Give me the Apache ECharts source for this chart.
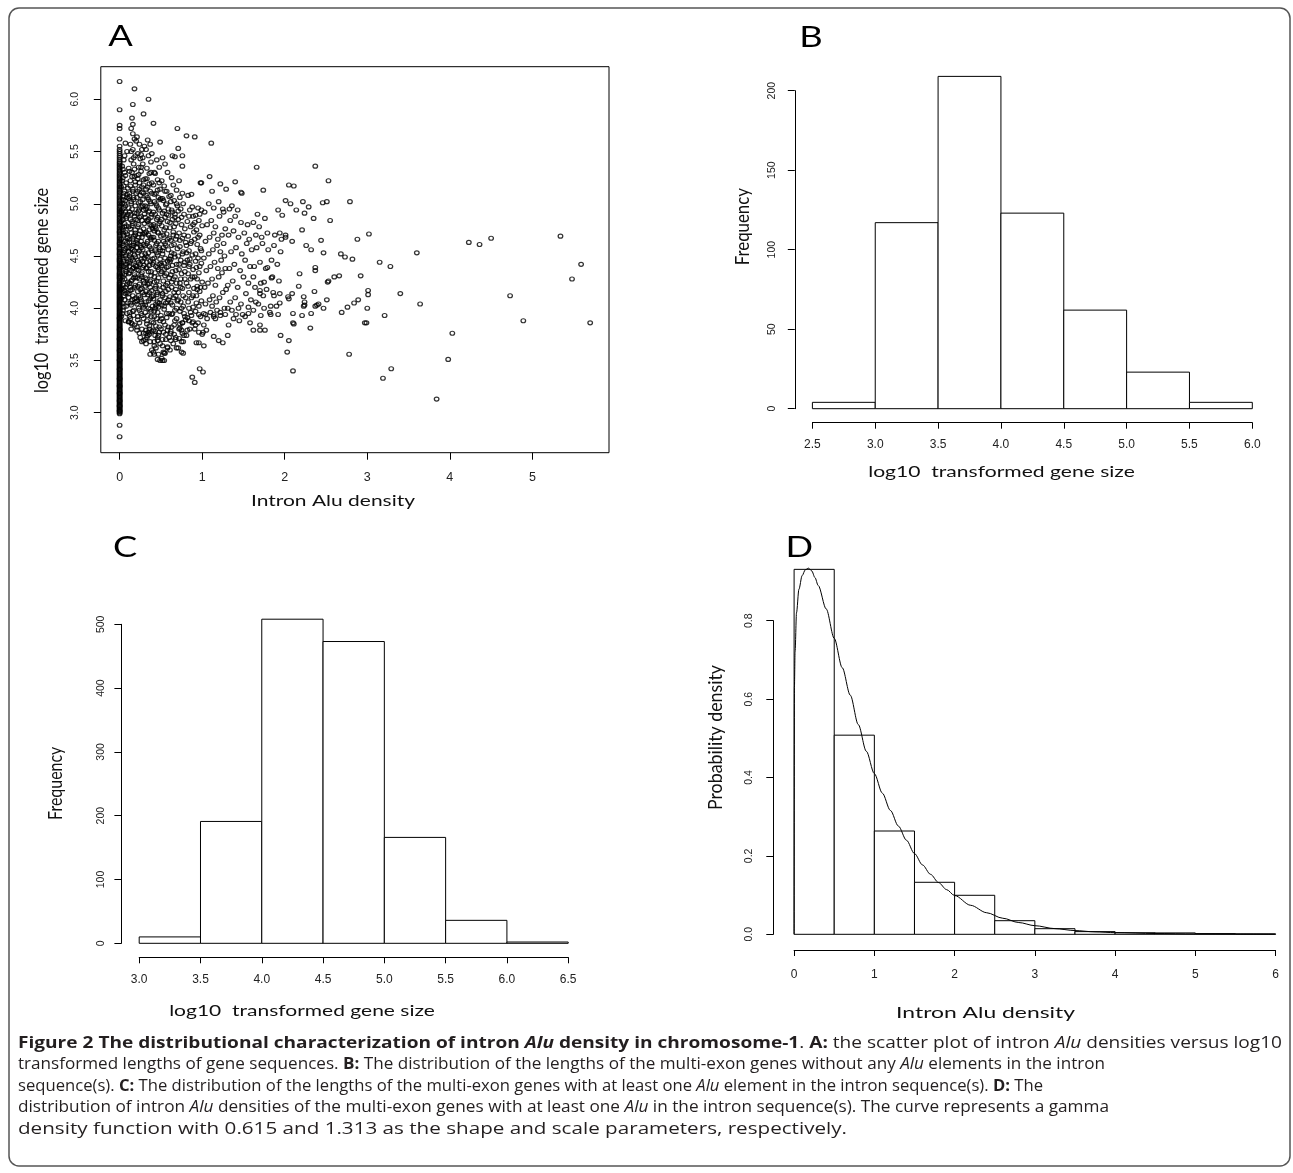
<!DOCTYPE html>
<html>
<head>
<meta charset="utf-8">
<script src="https://cdn.jsdelivr.net/npm/echarts@6/dist/echarts.min.js"></script>
<style>
html,body{margin:0;padding:0;background:#fff;}
#c{width:1293px;height:1173px;}
</style>
</head>
<body>
<div id="c"></div>
<script>
// ---------------- DATA ----------------
// Panel A: genes with zero intron Alu density (x = 0), log10 gene size
const zeroY = [2.77,2.88,2.99,3.01,3.02,3.04,3.06,3.07,3.09,3.11,3.12,3.14,3.16,3.18,3.19,3.21,3.23,3.25,3.26,3.28,3.3,3.32,3.33,3.35,3.37,3.39,3.41,3.42,3.44,3.46,3.48,3.5,3.51,3.53,3.55,3.57,3.59,3.6,3.62,3.64,3.66,3.68,3.7,3.71,3.73,3.75,3.77,3.79,3.8,3.82,3.84,3.86,3.88,3.9,3.91,3.93,3.95,3.97,3.99,4.01,4.03,4.05,4.07,4.09,4.11,4.13,4.15,4.17,4.19,4.21,4.23,4.25,4.28,4.3,4.32,4.34,4.37,4.39,4.41,4.44,4.46,4.48,4.51,4.53,4.56,4.58,4.61,4.63,4.66,4.69,4.72,4.74,4.77,4.8,4.83,4.86,4.89,4.92,4.95,4.98,5.01,5.04,5.07,5.1,5.13,5.16,5.19,5.22,5.25,5.28,5.31,5.34,5.37,5.4,5.44,5.48,5.52,5.55,5.62,5.72,5.75,5.9,6.17,
3.0,3.015,3.03,3.05,3.065,3.08,3.1,3.115,3.13,3.15,3.17,3.185,3.2,3.22,3.24,3.255,3.27,3.29,3.31,3.325,3.34,3.36,3.38,3.4,3.415,3.43,3.45,3.47,3.49,3.505,3.52,3.54,3.56,3.58,3.595,3.61,3.63,3.65,3.67,3.69,3.705,3.72,3.74,3.76,3.78,3.795,3.81,3.83,3.85,3.87,3.89,3.905,3.92,3.94,3.96,3.98,4.0,4.02,4.04,4.06,4.08,4.1,4.12,4.14,4.16,4.18,4.2,4.22,4.24,4.265,4.29,4.31,4.33,4.355,4.38,4.4,4.425,4.45,4.47,4.495,4.52,4.545,4.57,4.595,4.62,4.645,4.675,4.705,4.73,4.755,4.785,4.815,4.845,4.875,4.905,4.935,4.965,4.995,5.025,5.055,5.085,5.115,5.145,5.175,5.205,5.235,5.265,5.295,5.325,5.355,5.385,5.42,5.46,5.5];

// Panel A: genes with Alu (density, log10 gene size) – dense cloud near the y axis
const aluDense = [
[0.02,3.92],[0.03,4.05],[0.05,4.12],[0.02,4.18],[0.04,4.22],[0.06,4.28],[0.03,4.33],[0.07,4.37],[0.02,4.41],[0.05,4.45],[0.08,4.48],[0.03,4.52],[0.06,4.55],[0.04,4.6],[0.09,4.63],[0.02,4.66],[0.05,4.7],[0.07,4.73],[0.03,4.77],[0.06,4.81],[0.04,4.85],[0.08,4.88],[0.02,4.92],[0.05,4.96],[0.03,5.0],[0.07,5.03],[0.04,5.07],[0.06,5.12],[0.02,5.16],[0.08,5.2],[0.04,5.25],[0.06,5.3],[0.03,5.36],[0.05,5.42],[0.09,5.5],[0.07,5.58],[0.08,4.02],[0.09,4.15],[0.1,4.25],[0.08,4.35],[0.1,4.44],[0.09,4.58],[0.1,4.68],[0.08,4.79],[0.1,4.9],[0.09,5.06],[0.1,5.15],[0.04,3.98],[0.06,4.08],[0.07,4.2],[0.04,4.3],[0.05,4.4],[0.07,4.5],[0.06,4.64],[0.04,4.75],[0.07,4.92],[0.05,5.1],[0.03,5.22],[0.06,4.17],[0.08,4.42],[0.05,4.53],[0.09,4.71],[0.03,4.88],[0.06,5.0],[0.1,4.05],[0.09,3.95],[0.07,3.88],
[0.11,3.87],[0.13,3.9],[0.15,3.85],[0.12,3.96],[0.17,3.98],[0.14,4.03],[0.19,4.06],[0.11,4.1],[0.16,4.12],[0.13,4.17],[0.18,4.2],[0.12,4.24],[0.15,4.27],[0.19,4.3],[0.11,4.33],[0.14,4.36],[0.17,4.39],[0.12,4.43],[0.16,4.46],[0.19,4.49],[0.13,4.52],[0.18,4.55],[0.11,4.58],[0.15,4.6],[0.2,4.63],[0.12,4.66],[0.17,4.69],[0.14,4.72],[0.19,4.75],[0.11,4.78],[0.16,4.81],[0.13,4.85],[0.18,4.88],[0.12,4.92],[0.15,4.95],[0.19,4.98],[0.14,5.02],[0.17,5.06],[0.12,5.1],[0.16,5.14],[0.19,5.18],[0.13,5.22],[0.18,5.26],[0.15,5.3],[0.11,5.34],[0.17,5.38],[0.14,5.42],[0.19,5.46],[0.16,5.52],[0.13,5.57],[0.18,5.62],[0.16,5.67],[0.2,5.6],[0.2,4.1],[0.2,4.4],[0.2,4.85],[0.2,5.1],[0.15,4.08],[0.18,4.32],[0.12,4.5],[0.17,4.62],[0.14,4.9],[0.11,5.05],[0.18,5.33],[0.13,4.2],[0.16,4.56],[0.19,4.7],[0.15,4.79],[0.17,3.93],[0.14,3.8],[0.12,4.4],
[0.21,3.82],[0.24,3.86],[0.27,3.8],[0.22,3.92],[0.26,3.95],[0.29,3.9],[0.23,4.0],[0.28,4.03],[0.21,4.07],[0.25,4.1],[0.3,4.13],[0.22,4.16],[0.27,4.19],[0.24,4.23],[0.29,4.26],[0.21,4.29],[0.26,4.32],[0.23,4.36],[0.28,4.39],[0.25,4.42],[0.22,4.46],[0.3,4.48],[0.27,4.51],[0.24,4.55],[0.21,4.58],[0.29,4.61],[0.26,4.64],[0.23,4.68],[0.28,4.71],[0.25,4.74],[0.22,4.78],[0.3,4.81],[0.27,4.84],[0.24,4.87],[0.21,4.91],[0.29,4.94],[0.26,4.97],[0.23,5.01],[0.28,5.04],[0.25,5.08],[0.22,5.12],[0.27,5.16],[0.24,5.2],[0.29,5.23],[0.21,5.27],[0.26,5.31],[0.23,5.35],[0.28,5.38],[0.25,5.43],[0.22,5.48],[0.27,5.52],[0.24,5.57],[0.21,5.64],[0.26,5.47],[0.3,5.55],[0.29,3.76],[0.25,3.72],[0.28,4.45],[0.22,4.62],[0.26,4.06],[0.3,4.72],[0.24,4.95],[0.27,4.3],[0.23,4.8],[0.29,5.1],[0.21,4.4],[0.26,4.58],[0.3,4.9],[0.23,5.28],
[0.31,3.7],[0.34,3.74],[0.37,3.68],[0.32,3.79],[0.36,3.83],[0.39,3.78],[0.33,3.88],[0.38,3.92],[0.31,3.96],[0.35,4.0],[0.4,4.02],[0.32,4.06],[0.37,4.09],[0.34,4.13],[0.39,4.17],[0.31,4.21],[0.36,4.24],[0.33,4.28],[0.38,4.31],[0.35,4.35],[0.32,4.38],[0.4,4.42],[0.37,4.45],[0.34,4.49],[0.31,4.52],[0.39,4.55],[0.36,4.59],[0.33,4.62],[0.38,4.66],[0.35,4.7],[0.32,4.73],[0.4,4.76],[0.37,4.8],[0.34,4.83],[0.31,4.87],[0.39,4.9],[0.36,4.93],[0.33,4.97],[0.38,5.0],[0.35,5.04],[0.32,5.08],[0.37,5.12],[0.34,5.16],[0.39,5.2],[0.31,5.24],[0.36,5.29],[0.33,5.34],[0.38,5.4],[0.35,5.46],[0.32,5.52],[0.37,5.57],[0.34,5.61],[0.39,5.48],[0.36,4.15],[0.33,4.44],[0.39,4.68],[0.32,4.95],[0.37,4.26],[0.35,4.85],[0.38,3.97],[0.31,4.6],
[0.41,3.58],[0.44,3.62],[0.47,3.56],[0.42,3.68],[0.46,3.72],[0.49,3.66],[0.43,3.78],[0.48,3.82],[0.41,3.86],[0.45,3.9],[0.5,3.93],[0.42,3.97],[0.47,4.01],[0.44,4.04],[0.49,4.08],[0.41,4.12],[0.46,4.15],[0.43,4.19],[0.48,4.22],[0.45,4.26],[0.42,4.3],[0.5,4.33],[0.47,4.37],[0.44,4.4],[0.41,4.44],[0.49,4.47],[0.46,4.51],[0.43,4.55],[0.48,4.58],[0.45,4.62],[0.42,4.65],[0.5,4.69],[0.47,4.72],[0.44,4.76],[0.41,4.8],[0.49,4.83],[0.46,4.87],[0.43,4.9],[0.48,4.94],[0.45,4.98],[0.42,5.02],[0.47,5.06],[0.44,5.1],[0.49,5.14],[0.41,5.18],[0.46,5.23],[0.43,5.29],[0.48,5.35],[0.45,5.42],[0.42,5.3],[0.5,5.05],[0.44,4.02],[0.48,4.42],[0.42,4.74],[0.46,4.06],[0.5,3.8],
[0.51,3.52],[0.55,3.57],[0.58,3.62],[0.52,3.7],[0.56,3.75],[0.59,3.82],[0.53,3.87],[0.57,3.91],[0.6,3.95],[0.54,3.99],[0.51,4.03],[0.58,4.06],[0.55,4.1],[0.52,4.14],[0.59,4.18],[0.56,4.22],[0.53,4.26],[0.6,4.29],[0.57,4.33],[0.54,4.37],[0.51,4.41],[0.58,4.45],[0.55,4.48],[0.52,4.52],[0.59,4.56],[0.56,4.6],[0.53,4.64],[0.6,4.67],[0.57,4.71],[0.54,4.75],[0.51,4.79],[0.58,4.83],[0.55,4.87],[0.52,4.91],[0.59,4.95],[0.56,4.99],[0.53,5.03],[0.6,5.07],[0.57,5.12],[0.54,5.17],[0.51,5.22],[0.58,5.3],[0.55,5.38],[0.52,5.44],[0.56,4.05],[0.53,4.58],[0.59,4.4],[0.57,4.9],
[0.61,3.6],[0.65,3.66],[0.68,3.72],[0.62,3.78],[0.66,3.84],[0.69,3.9],[0.63,3.94],[0.67,3.98],[0.64,4.03],[0.7,4.07],[0.61,4.11],[0.66,4.15],[0.63,4.2],[0.69,4.24],[0.65,4.28],[0.62,4.32],[0.68,4.36],[0.64,4.41],[0.61,4.45],[0.67,4.49],[0.63,4.53],[0.7,4.57],[0.66,4.61],[0.62,4.65],[0.69,4.69],[0.65,4.73],[0.61,4.77],[0.68,4.81],[0.64,4.85],[0.67,4.9],[0.63,4.94],[0.7,4.98],[0.66,5.03],[0.62,5.08],[0.69,5.13],[0.65,5.18],[0.63,5.25],[0.67,5.45],[0.68,4.12],[0.62,4.5],[0.66,4.78],
[0.71,3.62],[0.75,3.68],[0.78,3.74],[0.72,3.8],[0.76,3.86],[0.79,3.92],[0.73,3.97],[0.77,4.02],[0.74,4.06],[0.8,4.1],[0.71,4.15],[0.76,4.19],[0.73,4.24],[0.79,4.28],[0.75,4.33],[0.72,4.37],[0.78,4.41],[0.74,4.46],[0.71,4.5],[0.77,4.54],[0.73,4.59],[0.8,4.63],[0.76,4.67],[0.72,4.72],[0.79,4.76],[0.75,4.8],[0.71,4.85],[0.78,4.9],[0.74,4.95],[0.77,5.0],[0.73,5.06],[0.76,5.1],[0.72,5.22],[0.79,4.44],[0.74,4.2],
[0.81,3.74],[0.85,3.8],[0.88,3.86],[0.82,3.91],[0.86,3.96],[0.89,4.01],[0.83,4.06],[0.87,4.1],[0.84,4.15],[0.9,4.19],[0.81,4.24],[0.86,4.28],[0.83,4.33],[0.89,4.37],[0.85,4.42],[0.82,4.46],[0.88,4.51],[0.84,4.55],[0.81,4.6],[0.87,4.64],[0.83,4.69],[0.9,4.73],[0.86,4.78],[0.82,4.83],[0.89,4.88],[0.85,4.94],[0.88,4.97],[0.83,5.08],[0.87,5.09],[0.84,4.4],
[0.91,3.8],[0.95,3.86],[0.98,3.92],[0.92,3.97],[0.96,4.02],[0.99,4.07],[0.93,4.12],[0.97,4.16],[0.94,4.21],[1.0,4.25],[0.91,4.3],[0.96,4.34],[0.93,4.39],[0.99,4.43],[0.95,4.48],[0.92,4.52],[0.98,4.57],[0.94,4.61],[0.91,4.66],[0.97,4.7],[0.93,4.75],[1.0,4.79],[0.96,4.84],[0.92,4.89],[0.99,4.94],[0.95,4.96],[0.98,5.2],[0.94,4.18]
];

// Panel A: more of the dense cloud (second reading pass)
const aluDense2 = [
[0.03,3.95],[0.05,4.01],[0.02,4.09],[0.07,4.14],[0.04,4.19],[0.09,4.23],[0.03,4.27],[0.06,4.32],[0.08,4.39],[0.02,4.43],[0.05,4.47],[0.07,4.57],[0.03,4.62],[0.09,4.67],[0.04,4.72],[0.06,4.78],[0.02,4.83],[0.08,4.86],[0.05,4.9],[0.03,4.94],[0.07,4.98],[0.04,5.04],[0.09,5.09],[0.05,5.17],[0.07,5.27],[0.04,5.33],[0.06,5.46],
[0.12,3.92],[0.16,3.97],[0.13,4.05],[0.18,4.09],[0.11,4.14],[0.15,4.18],[0.19,4.22],[0.14,4.26],[0.17,4.29],[0.12,4.34],[0.16,4.38],[0.19,4.41],[0.13,4.45],[0.15,4.48],[0.18,4.51],[0.11,4.54],[0.14,4.57],[0.17,4.6],[0.12,4.63],[0.16,4.67],[0.19,4.72],[0.13,4.76],[0.15,4.83],[0.18,4.91],[0.11,4.96],[0.14,5.0],[0.17,5.04],[0.12,5.07],[0.16,5.12],[0.13,5.17],[0.19,5.21],[0.15,5.26],[0.12,5.31],[0.17,5.44],[0.14,5.5],
[0.22,3.89],[0.27,3.93],[0.24,3.98],[0.29,4.01],[0.21,4.04],[0.26,4.08],[0.23,4.12],[0.28,4.15],[0.25,4.18],[0.22,4.21],[0.3,4.24],[0.24,4.28],[0.27,4.34],[0.21,4.37],[0.29,4.41],[0.23,4.44],[0.26,4.47],[0.22,4.53],[0.28,4.56],[0.25,4.6],[0.21,4.65],[0.27,4.68],[0.24,4.71],[0.29,4.76],[0.22,4.84],[0.26,4.88],[0.23,4.93],[0.28,4.98],[0.25,5.02],[0.21,5.06],[0.27,5.11],[0.24,5.14],[0.29,5.18],[0.22,5.24],[0.26,5.35],[0.28,5.44],
[0.32,3.76],[0.36,3.8],[0.33,3.85],[0.39,3.87],[0.34,3.93],[0.37,3.99],[0.31,4.03],[0.35,4.07],[0.39,4.11],[0.32,4.16],[0.37,4.2],[0.34,4.23],[0.31,4.29],[0.38,4.35],[0.33,4.39],[0.36,4.41],[0.4,4.47],[0.32,4.5],[0.35,4.53],[0.38,4.57],[0.34,4.64],[0.37,4.68],[0.31,4.71],[0.36,4.75],[0.39,4.79],[0.33,4.84],[0.38,4.87],[0.35,4.92],[0.31,4.98],[0.37,5.02],[0.34,5.06],[0.39,5.1],[0.32,5.14],[0.36,5.19],[0.33,5.24],[0.38,5.3],
[0.42,3.64],[0.46,3.69],[0.43,3.74],[0.48,3.77],[0.44,3.83],[0.49,3.88],[0.42,3.92],[0.46,3.96],[0.43,4.0],[0.48,4.05],[0.41,4.09],[0.45,4.13],[0.49,4.17],[0.44,4.21],[0.42,4.25],[0.47,4.29],[0.43,4.34],[0.46,4.39],[0.5,4.43],[0.42,4.48],[0.45,4.53],[0.49,4.56],[0.44,4.6],[0.47,4.64],[0.41,4.68],[0.46,4.73],[0.43,4.78],[0.48,4.81],[0.45,4.85],[0.41,4.92],[0.47,4.96],[0.44,5.0],[0.49,5.04],[0.42,5.09],[0.46,5.13],[0.48,5.2],
[0.52,3.64],[0.56,3.7],[0.53,3.77],[0.58,3.79],[0.55,3.84],[0.51,3.9],[0.57,3.95],[0.54,4.02],[0.59,4.08],[0.52,4.12],[0.56,4.16],[0.53,4.2],[0.58,4.24],[0.55,4.31],[0.51,4.35],[0.57,4.39],[0.54,4.43],[0.6,4.47],[0.52,4.55],[0.55,4.62],[0.58,4.66],[0.53,4.7],[0.56,4.77],[0.51,4.85],[0.59,4.89],[0.54,4.93],[0.57,5.0],[0.52,5.05],[0.55,5.12],
[0.62,3.69],[0.66,3.75],[0.63,3.82],[0.67,3.88],[0.64,3.95],[0.69,4.0],[0.62,4.05],[0.65,4.1],[0.68,4.18],[0.63,4.25],[0.67,4.3],[0.64,4.35],[0.69,4.42],[0.62,4.47],[0.66,4.52],[0.63,4.6],[0.68,4.66],[0.65,4.7],[0.61,4.82],[0.67,4.87],[0.64,4.92],[0.69,5.0],[0.62,5.02],
[0.72,3.71],[0.76,3.76],[0.73,3.85],[0.78,3.95],[0.75,4.0],[0.71,4.08],[0.77,4.12],[0.74,4.28],[0.79,4.35],[0.72,4.42],[0.76,4.52],[0.73,4.65],[0.78,4.7],[0.75,4.87],[0.71,4.93],
[0.82,3.79],[0.87,3.93],[0.84,4.0],[0.89,4.12],[0.83,4.21],[0.88,4.3],[0.85,4.47],[0.81,4.53],[0.86,4.62],[0.89,4.8],[0.84,4.88],
[0.92,3.84],[0.96,3.94],[0.93,4.05],[0.98,4.2],[0.94,4.28],[0.97,4.4],[0.92,4.45],[0.99,4.55],[0.95,4.68],[0.91,4.82],[0.97,4.9]
];

// Panel A: genes with Alu – mid-range densities 1 to 2
const aluMid = [
[1.02,3.84],[1.06,3.9],[1.1,3.96],[1.14,3.92],[1.18,3.98],[1.22,3.96],[1.27,4.0],[1.04,4.04],[1.09,4.08],[1.13,4.12],[1.17,4.06],[1.21,4.1],[1.25,4.15],[1.29,4.18],[1.03,4.2],[1.07,4.24],[1.12,4.28],[1.16,4.22],[1.2,4.3],[1.24,4.34],[1.28,4.38],[1.05,4.36],[1.1,4.4],[1.15,4.44],[1.19,4.38],[1.23,4.46],[1.27,4.5],[1.02,4.48],[1.08,4.52],[1.13,4.56],[1.18,4.6],[1.22,4.54],[1.26,4.62],[1.04,4.64],[1.09,4.68],[1.14,4.72],[1.19,4.66],[1.24,4.7],[1.28,4.76],[1.06,4.8],[1.11,4.84],[1.16,4.78],[1.21,4.88],[1.26,4.92],[1.03,4.92],[1.08,5.0],[1.14,4.96],[1.2,5.02],[1.25,4.95],[1.12,5.12],
[1.32,3.84],[1.38,3.9],[1.45,3.88],[1.52,3.92],[1.58,3.86],[1.34,4.06],[1.4,4.1],[1.47,4.04],[1.53,4.14],[1.59,4.08],[1.31,4.22],[1.37,4.26],[1.43,4.2],[1.5,4.3],[1.56,4.24],[1.33,4.38],[1.39,4.42],[1.46,4.36],[1.52,4.46],[1.58,4.4],[1.35,4.54],[1.41,4.58],[1.48,4.52],[1.54,4.62],[1.6,4.56],[1.32,4.7],[1.38,4.74],[1.44,4.68],[1.51,4.72],[1.57,4.66],[1.34,4.84],[1.4,4.88],[1.47,4.82],[1.55,4.8],[1.36,4.98],[1.43,4.94],[1.33,4.95],[1.48,5.1],
[1.62,3.98],[1.68,4.04],[1.75,4.0],[1.82,3.96],[1.9,4.02],[1.64,4.2],[1.71,4.24],[1.78,4.18],[1.85,4.3],[1.93,4.26],[1.63,4.4],[1.7,4.44],[1.77,4.38],[1.84,4.46],[1.91,4.42],[1.66,4.58],[1.73,4.62],[1.8,4.56],[1.87,4.6],[1.95,4.54],[1.65,4.7],[1.72,4.68],[1.79,4.72],[1.88,4.7],[1.96,4.66],[1.62,4.82],[1.69,4.78],[1.76,4.86],[1.62,4.3],[1.74,4.12]
];

// Panel A: outlying / sparse points
const aluSparse = [
[0.18,6.10],[0.16,5.95],[0.35,6.0],[0.29,5.86],[0.15,5.82],[0.16,5.76],[0.14,5.72],[0.41,5.77],[0.70,5.72],[0.81,5.65],[0.91,5.64],[1.11,5.58],[0.76,5.46],[0.71,5.53],[0.49,5.59],[0.64,5.46],[0.76,5.36],[1.66,5.35],[2.37,5.36],[1.09,5.26],[0.99,5.20],[1.22,5.19],[1.40,5.21],[1.29,5.14],[1.47,5.11],[1.74,5.13],[2.05,5.18],[2.11,5.17],[2.53,5.22],[2.01,5.03],[2.22,5.02],[2.07,5.0],[2.46,5.01],[2.51,5.02],[2.79,5.02],[1.92,4.94],[2.14,4.94],[2.24,4.91],[2.29,4.97],[2.35,4.86],[2.55,4.84],[1.67,4.90],[1.97,4.89],[3.02,4.71],[2.88,4.66],[2.44,4.65],[2.21,4.75],[2.09,4.64],[1.94,4.72],[2.01,4.70],[2.01,4.68],[2.26,4.60],[2.32,4.56],[2.47,4.53],[2.68,4.52],[2.73,4.49],[2.82,4.47],[3.15,4.44],[3.28,4.40],[3.60,4.53],[4.23,4.63],[4.36,4.61],[4.50,4.67],[5.34,4.69],[5.59,4.42],[5.48,4.28],[4.73,4.12],[4.89,3.88],[5.70,3.86],[4.03,3.76],[3.98,3.51],[3.84,3.13],[3.19,3.33],[3.29,3.42],[3.21,3.93],[3.40,4.14],[3.64,4.04],[3.01,4.17],[3.01,4.13],[2.92,4.31],[2.97,3.86],[2.99,3.86],[3.0,4.0],[2.89,4.08],[2.84,4.05],[2.76,4.01],[2.69,3.96],[2.66,4.31],[2.60,4.30],[2.78,3.56],[2.52,4.25],[2.53,4.26],[2.51,4.08],[2.47,4.0],[2.41,4.04],[2.39,4.03],[2.37,4.02],[2.37,4.39],[2.37,4.36],[2.36,4.16],[2.31,3.81],[2.32,3.95],[2.23,4.02],[2.24,4.03],[2.23,4.11],[2.24,4.06],[2.17,4.21],[2.18,4.33],[2.21,3.93],[2.10,3.86],[2.11,3.85],[2.10,3.40],[2.05,3.69],[2.03,3.58],[1.95,3.74],[2.10,3.95],[2.04,4.11],[2.05,4.09],[2.09,4.14],[1.94,4.14],[1.94,4.05],[1.92,3.94],[1.86,4.15],[1.87,4.12],[1.83,4.02],[1.83,3.94],[1.84,4.29],[1.79,4.39],[1.75,4.25],[1.70,4.17],[1.70,4.14],[1.65,4.06],[1.56,4.01],[1.56,3.95],[1.71,3.93],[1.70,3.84],[1.70,3.79],[1.62,3.79],[1.76,3.79],[1.49,3.94],[1.44,4.0],[1.36,3.98],[1.41,3.94],[1.31,4.0],[1.28,3.94],[1.22,3.93],[1.14,3.94],[1.12,4.02],[1.16,3.90],[1.02,3.95],[1.04,3.94],[1.05,3.79],[1.01,3.77],[1.0,3.75],[0.96,3.77],[1.14,3.73],[1.20,3.69],[1.25,3.67],[1.31,3.74],[0.93,3.67],[0.96,3.67],[1.02,3.64],[0.97,3.42],[1.01,3.39],[0.88,3.34],[0.91,3.29],[0.77,3.68],[0.75,3.58],[0.77,3.57],[0.76,3.86],[0.80,3.89],[0.84,3.88],[0.89,3.87],[0.73,3.81],[0.75,3.79],[0.69,3.62],[0.68,3.70],[0.62,3.76],[0.60,3.72],[0.58,3.63],[0.53,3.58],[0.54,3.57],[0.46,3.51],[0.49,3.50],[0.52,3.50],[0.54,3.50],[0.42,3.56],[0.39,3.60],[0.37,3.56],[0.32,3.66],[0.29,3.69],[0.27,3.68],[0.33,3.72],[0.35,3.77],[0.36,3.75],[0.41,3.79],[0.47,3.74],[0.24,3.76],[0.21,3.79],[0.18,3.84],[0.14,3.86],[0.11,3.87]
];

// Panel B: genes without Alu – histogram of log10 gene size
const bEdges  = [2.5, 3.0, 3.5, 4.0, 4.5, 5.0, 5.5, 6.0];
const bCounts = [4, 117, 209, 123, 62, 23, 4];
// Panel C: genes with at least one Alu – histogram of log10 gene size
const cEdges  = [3.0, 3.5, 4.0, 4.5, 5.0, 5.5, 6.0, 6.5];
const cCounts = [10, 191, 508, 473, 166, 36, 2];
// Panel D: histogram (density) of intron Alu density + fitted gamma curve
const dEdges   = [0, 0.5, 1, 1.5, 2, 2.5, 3, 3.5, 4, 4.5, 5, 5.5, 6];
const dDensity = [0.931, 0.508, 0.2635, 0.1327, 0.0995, 0.0347, 0.0143, 0.0068, 0.004, 0.0035, 0.0017, 0.001];
const dCurve = [[0,0],[0.004,0.63],[0.012,0.72],[0.03,0.82],[0.06,0.88],[0.1,0.915],[0.14,0.93],[0.18,0.934],[0.22,0.927],[0.26,0.91],[0.3,0.89],[0.4,0.83],[0.5,0.755],[0.6,0.68],[0.7,0.61],[0.8,0.535],[0.9,0.467],[1.0,0.41],[1.1,0.36],[1.2,0.316],[1.3,0.276],[1.4,0.24],[1.5,0.206],[1.6,0.177],[1.7,0.153],[1.8,0.132],[1.9,0.114],[2.0,0.099],[2.2,0.074],[2.4,0.055],[2.6,0.041],[2.8,0.030],[3.0,0.022],[3.25,0.0145],[3.5,0.0095],[3.75,0.0062],[4.0,0.0042],[4.5,0.002],[5.0,0.001],[5.5,0.0006],[6.0,0.0003]];

// Tick values
const aXTicks = [0, 1, 2, 3, 4, 5];
const aYTicks = [3.0, 3.5, 4.0, 4.5, 5.0, 5.5, 6.0];

// ---------------- LAYOUT / STYLE ----------------
const FT = 'Lato';
const FTICK = '"Liberation Sans", Arial, sans-serif';
const FC = '"Open Sans"';
const INK = '#111';

const ctx = document.createElement('canvas').getContext('2d');
function fontStr(s) {
  return (s.italic ? 'italic ' : '') + (s.bold ? 'bold ' : '') + s.size + 'px ' + s.family;
}
function measure(segs) {
  let w = 0;
  for (const s of segs) { ctx.font = fontStr(s); w += ctx.measureText(s.text).width; }
  return w;
}

function bins(edges, vals) {
  return vals.map((v, i) => [edges[i], edges[i + 1], v]);
}

function histSeries(idx, data) {
  return {
    type: 'custom', xAxisIndex: idx, yAxisIndex: idx, clip: false, silent: true,
    data: data,
    encode: { x: [0, 1], y: 2 },
    renderItem: function (params, api) {
      const p0 = api.coord([api.value(0), 0]);
      const p1 = api.coord([api.value(1), api.value(2)]);
      return {
        type: 'rect',
        shape: { x: p0[0], y: p1[1], width: p1[0] - p0[0], height: p0[1] - p1[1] },
        style: { fill: '#fff', stroke: '#000', lineWidth: 1 }
      };
    }
  };
}

const tickLabel = { color: '#222', fontFamily: FTICK };

function histX(idx, min, max, interval, offset, margin) {
  return {
    gridIndex: idx, type: 'value', min: min, max: max, interval: interval, offset: offset,
    axisLine: { show: true, onZero: false, lineStyle: { color: '#000', width: 1 } },
    axisTick: { show: true, length: 6, lineStyle: { color: '#000', width: 1 } },
    axisLabel: Object.assign({ margin: margin, fontSize: 12, formatter: v => (interval < 1 ? v.toFixed(1) : String(v)) }, tickLabel),
    splitLine: { show: false }
  };
}
function histY(idx, min, max, interval, offset, margin, dec) {
  return {
    gridIndex: idx, type: 'value', min: min, max: max, interval: interval, offset: offset,
    axisLine: { show: true, onZero: false, lineStyle: { color: '#000', width: 1 } },
    axisTick: { show: true, length: 7, lineStyle: { color: '#000', width: 1 } },
    axisLabel: Object.assign({ margin: margin, fontSize: 10.5, rotate: 90, formatter: v => (dec ? v.toFixed(1) : String(v)) }, tickLabel),
    splitLine: { show: false }
  };
}

// titles (text, centre x, centre y, target length, rotated)
const titles = [
  ['log10  transformed gene size', 41.5, 290.5, 205, true],
  ['Intron Alu density', 333, 501, 164, false],
  ['Frequency', 742.5, 226.7, 77, true],
  ['log10  transformed gene size', 1001.5, 471.5, 266.6, false],
  ['Frequency', 56, 783.3, 73.3, true],
  ['log10  transformed gene size', 302, 1010.5, 265.7, false],
  ['Probability density', 716, 737.5, 145, true],
  ['Intron Alu density', 985.6, 1012.5, 179, false]
];
const panelLetters = [['A', 120.6, 37], ['B', 811, 37.5], ['C', 125, 548], ['D', 799.4, 548]];

const captionLines = [
  [['b', 'Figure 2 The distributional characterization of intron '], ['bi', 'Alu'], ['b', ' density in chromosome-1'], ['r', '. '], ['b', 'A:'], ['r', ' the scatter plot of intron '], ['i', 'Alu'], ['r', ' densities versus log10']],
  [['r', 'transformed lengths of gene sequences. '], ['b', 'B:'], ['r', ' The distribution of the lengths of the multi-exon genes without any '], ['i', 'Alu'], ['r', ' elements in the intron']],
  [['r', 'sequence(s). '], ['b', 'C:'], ['r', ' The distribution of the lengths of the multi-exon genes with at least one '], ['i', 'Alu'], ['r', ' element in the intron sequence(s). '], ['b', 'D:'], ['r', ' The']],
  [['r', 'distribution of intron '], ['i', 'Alu'], ['r', ' densities of the multi-exon genes with at least one '], ['i', 'Alu'], ['r', ' in the intron sequence(s). The curve represents a gamma']],
  [['r', 'density function with 0.615 and 1.313 as the shape and scale parameters, respectively.']]
];
const captionRight = [1282, 1105, 1043, 1109, 847];
const captionY = [1043, 1064.5, 1086, 1107.5, 1129];

// ---------------- GRAPHICS ----------------
const graphics = [];
graphics.push({ type: 'rect', shape: { x: 9, y: 8, width: 1281, height: 1158, r: 10 }, style: { fill: 'transparent', stroke: '#555', lineWidth: 1.5 }, silent: true });

const TS = 15.8;
for (const t of titles) {
  const w = measure([{ text: t[0], size: TS, family: FT }]);
  graphics.push({
    type: 'text', x: t[1], y: t[2], rotation: t[4] ? Math.PI / 2 : 0,
    scaleX: t[3] / w, scaleY: t[4] ? 1.25 : 1, silent: true,
    style: { text: t[0], fontSize: TS, fontFamily: FT, fill: INK, align: 'center', verticalAlign: 'middle' }
  });
}
for (const L of panelLetters) {
  graphics.push({
    type: 'text', x: L[1], y: L[2], scaleX: 1.25, silent: true,
    style: { text: L[0], fontSize: 29, fontFamily: FT, fill: '#000', align: 'center', verticalAlign: 'middle' }
  });
}

// Caption (rich text); each line is fitted to its measured width in the reference
const CS = 16.5;
const CAP_L = 18;
const capRich = {
  b: { fontFamily: FC, fontSize: CS, fontWeight: 'bold', fill: '#231f20' },
  bi: { fontFamily: FC, fontSize: CS, fontWeight: 'bold', fontStyle: 'italic', fill: '#231f20' },
  i: { fontFamily: FC, fontSize: CS, fontStyle: 'italic', fill: '#231f20' },
  r: { fontFamily: FC, fontSize: CS, fill: '#231f20' }
};
function capSegs(line) {
  return line.map(s => ({ text: s[1], size: CS, family: FC, bold: s[0].indexOf('b') === 0, italic: s[0].indexOf('i') >= 0 }));
}
captionLines.forEach((line, k) => {
  const sc = (captionRight[k] - CAP_L) / measure(capSegs(line));
  const str = line.map(s => '{' + s[0] + '|' + s[1] + '}').join('');
  graphics.push({
    type: 'text', x: CAP_L, y: captionY[k], scaleX: sc, silent: true,
    style: { text: str, rich: capRich, fontFamily: FC, fontSize: CS, fill: '#231f20', align: 'left', verticalAlign: 'middle' }
  });
});

// ---------------- OPTION ----------------
const scatterData = zeroY.map(y => [0, y]).concat(aluDense, aluDense2, aluMid, aluSparse);

const option = {
  animation: false,
  backgroundColor: '#fff',
  grid: [
    { left: 100.8, top: 66.7, width: 508.2, height: 386, show: true, borderColor: '#000', borderWidth: 1, backgroundColor: 'transparent', outerBoundsMode: 'none' },
    { left: 812.4, top: 90.7, width: 439.9, height: 318, outerBoundsMode: 'none' },
    { left: 139.2, top: 624.3, width: 429, height: 319, outerBoundsMode: 'none' },
    { left: 794.1, top: 620.7, width: 481.5, height: 313.6, outerBoundsMode: 'none' }
  ],
  xAxis: [
    {
      gridIndex: 0, type: 'value', min: -0.228, max: 5.928,
      axisLine: { show: false, onZero: false },
      axisTick: { show: true, length: 7, lineStyle: { color: '#000', width: 1 }, customValues: aXTicks },
      axisLabel: Object.assign({ customValues: aXTicks, margin: 18, fontSize: 12.5 }, tickLabel),
      splitLine: { show: false }
    },
    histX(1, 2.5, 6.0, 0.5, 14, 16),
    histX(2, 3.0, 6.5, 0.5, 14, 16),
    histX(3, 0, 6, 1, 15.7, 19)
  ],
  yAxis: [
    {
      gridIndex: 0, type: 'value', min: 2.617, max: 6.312,
      axisLine: { show: false, onZero: false },
      axisTick: { show: true, length: 7, lineStyle: { color: '#000', width: 1 }, customValues: aYTicks },
      axisLabel: Object.assign({ customValues: aYTicks, margin: 20, fontSize: 10.5, rotate: 90, formatter: v => v.toFixed(1) }, tickLabel),
      splitLine: { show: false }
    },
    histY(1, 0, 200, 50, 17.6, 17, false),
    histY(2, 0, 500, 100, 17.8, 15, false),
    histY(3, 0, 0.8, 0.2, 20.8, 18.5, true)
  ],
  series: [
    {
      type: 'scatter', xAxisIndex: 0, yAxisIndex: 0, data: scatterData, silent: true,
      symbol: 'circle', symbolSize: [4.6, 4.0],
      itemStyle: { color: 'rgba(255,255,255,0)', borderColor: '#000', borderWidth: 1.2 },
      emphasis: { disabled: true }
    },
    histSeries(1, bins(bEdges, bCounts)),
    histSeries(2, bins(cEdges, cCounts)),
    histSeries(3, bins(dEdges, dDensity)),
    {
      type: 'line', xAxisIndex: 3, yAxisIndex: 3, data: dCurve, silent: true, clip: false,
      symbol: 'none', showSymbol: false, smooth: 0.3, smoothMonotone: 'x',
      lineStyle: { color: '#000', width: 1 }, z: 5
    }
  ],
  graphic: { elements: graphics }
};

const chart = echarts.init(document.getElementById('c'), null, { renderer: 'canvas' });
chart.setOption(option);
</script>
</body>
</html>
